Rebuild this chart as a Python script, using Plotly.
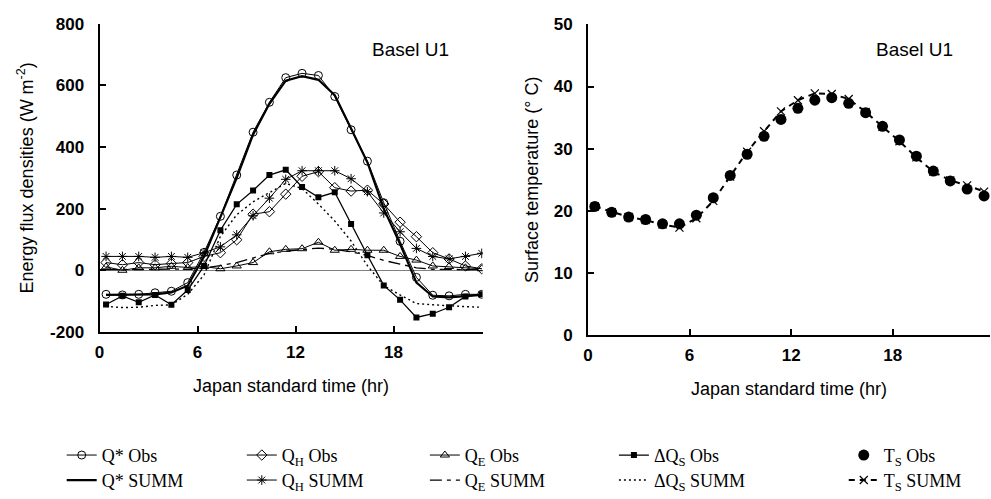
import plotly.graph_objects as go

# ---------------- data ----------------
hours = [0.4, 1.4, 2.4, 3.4, 4.4, 5.4, 6.4, 7.4, 8.4, 9.4, 10.4, 11.4,
         12.4, 13.4, 14.4, 15.4, 16.4, 17.4, 18.4, 19.4, 20.4, 21.4, 22.4, 23.4]

qstar_obs = [-78, -80, -78, -73, -68, -40, 58, 175, 309, 448, 545, 625,
             639, 632, 564, 456, 354, 219, 94, -23, -81, -83, -78, -78]
qstar_summ = [-80, -80, -80, -78, -72, -50, 45, 170, 300, 440, 540, 615,
              630, 618, 568, 460, 350, 200, 85, -40, -85, -88, -83, -80]
qh_obs = [25, 18, 25, 18, 22, 25, 45, 57, 99, 182, 190, 247,
          305, 320, 268, 257, 260, 215, 156, 109, 57, 37, 14, 5]
qh_summ = [45, 45, 45, 42, 45, 42, 57, 76, 115, 177, 234, 295,
           323, 323, 323, 297, 255, 186, 125, 71, 45, 37, 45, 55]
qe_obs = [11, 0, 8, 8, 13, 9, 12, 5, 14, 25, 60, 68,
          70, 91, 65, 68, 65, 65, 45, 33, 14, 12, 8, 5]
qe_summ = [2, 2, 2, 2, 3, 4, 8, 15, 25, 40, 55, 62,
           68, 72, 68, 60, 48, 32, 20, 8, 3, 2, 2, 2]
dqs_obs = [-111, -83, -104, -80, -112, -64, 14, 130, 214, 259, 309, 326,
           270, 237, 253, 150, 49, -49, -96, -153, -141, -120, -85, -78]
dqs_summ = [-117, -121, -120, -114, -112, -78, -15, 110, 180, 222, 252, 282,
            265, 215, 160, 95, 15, -50, -80, -108, -112, -116, -118, -120]

ts_obs = [20.7, 19.75, 19.0, 18.6, 17.9, 17.9, 19.3, 22.1, 25.7, 29.1, 32.0, 34.7,
          36.5, 37.8, 38.2, 37.3, 35.8, 33.6, 31.4, 28.8, 26.4, 24.8, 23.5, 22.4]
ts_summ = [20.7, 19.8, 19.0, 18.5, 17.8, 17.3, 18.8, 21.6, 25.5, 29.5, 32.8, 36.0,
           37.8, 38.9, 38.8, 38.0, 35.9, 33.5, 31.2, 28.6, 26.3, 24.9, 24.1, 23.1]

x_ticks = [0, 6, 12, 18]
flux_ticks = [-200, 0, 200, 400, 600, 800]
temp_ticks = [0, 10, 20, 30, 40, 50]

W, H = 991, 499
SANS = "Liberation Sans"
SERIF = "Liberation Serif"

fig = go.Figure()

def add(x, y, name, legend, xa="x", ya="y", mode="lines+markers", line=None, marker=None):
    fig.add_trace(go.Scatter(x=x, y=y, name=name, mode=mode, xaxis=xa, yaxis=ya,
                             legend=legend, line=line or {}, marker=marker or {},
                             showlegend=True, hoverinfo="skip"))

# left panel
add(hours, qstar_summ, "Q* SUMM", "legend2", mode="lines",
    line=dict(color="black", width=2.2))
add(hours, qe_summ, "Q<sub>E</sub> SUMM", "legend6", mode="lines",
    line=dict(color="black", width=1.3, dash="12px,5px,4px,5px"))
add(hours, dqs_summ, "ΔQ<sub>S</sub> SUMM", "legend8", mode="lines",
    line=dict(color="black", width=1.4, dash="2px,3px"))
add(hours, qh_summ, "Q<sub>H</sub> SUMM", "legend4",
    line=dict(color="black", width=1),
    marker=dict(symbol="asterisk-open", size=8, color="black", line=dict(width=1, color="black")))
add(hours, qe_obs, "Q<sub>E</sub> Obs", "legend5",
    line=dict(color="black", width=1),
    marker=dict(symbol="triangle-up-open", size=8, color="black", line=dict(width=1, color="black")))
add(hours, qh_obs, "Q<sub>H</sub> Obs", "legend3",
    line=dict(color="black", width=1),
    marker=dict(symbol="diamond-open", size=8, color="black", line=dict(width=1, color="black")))
add(hours, dqs_obs, "ΔQ<sub>S</sub> Obs", "legend7",
    line=dict(color="black", width=1.3),
    marker=dict(symbol="square", size=6, color="black"))
add(hours, qstar_obs, "Q* Obs", "legend",
    line=dict(color="black", width=1),
    marker=dict(symbol="circle-open", size=8, color="black", line=dict(width=1, color="black")))

# right panel
add(hours, ts_summ, "T<sub>S</sub> SUMM", "legend10", xa="x2", ya="y2",
    line=dict(color="black", width=2, dash="6px,5px"),
    marker=dict(symbol="x-thin-open", size=8, color="black", line=dict(width=1.2, color="black")))
add(hours, ts_obs, "T<sub>S</sub> Obs", "legend9", xa="x2", ya="y2", mode="markers",
    marker=dict(symbol="circle", size=11, color="black"))

axis_common = dict(showline=True, linecolor="black", linewidth=2, ticks="inside",
                   ticklen=6, tickwidth=1.5, tickcolor="black", showgrid=False,
                   tickfont=dict(family=SANS, size=17, color="black", weight="bold"),
                   mirror=False)

TITLE_FONT = dict(family=SANS, size=18, color="black")

legend_rows = {1: 464, 2: 490}
legend_cols = {1: 57, 2: 238, 3: 422, 4: 612, 5: 843}
legends = {}
order = [(1, 1), (1, 2), (2, 1), (2, 2), (3, 1), (3, 2), (4, 1), (4, 2), (5, 1), (5, 2)]
for i, (c, r) in enumerate(order, start=1):
    key = "legend" if i == 1 else f"legend{i}"
    legends[key] = dict(x=legend_cols[c] / W, y=1 - legend_rows[r] / H,
                        xanchor="left", yanchor="middle", bgcolor="rgba(0,0,0,0)",
                        font=dict(family=SERIF, size=18, color="black"),
                        borderwidth=0)

fig.update_layout(
    width=W, height=H, margin=dict(l=0, r=0, t=0, b=0),
    paper_bgcolor="white", plot_bgcolor="white",
    xaxis=dict(domain=[95 / W, 480 / W], range=[0, 23.45], tickvals=x_ticks,
               title=dict(text="Japan standard time (hr)", font=TITLE_FONT, standoff=18),
               ticklabelstandoff=4,
               zeroline=False, anchor="y", **axis_common),
    yaxis=dict(domain=[1 - 335.7 / H, 1 - 15.3 / H], range=[-200, 800], tickvals=flux_ticks,
               ticktext=[str(v) for v in flux_ticks],
               title=dict(text="Energy flux densities (W m<sup>-2</sup>)", font=TITLE_FONT, standoff=12),
               ticklabelstandoff=10,
               zeroline=True, zerolinecolor="#808080", zerolinewidth=1.2, anchor="x", **axis_common),
    xaxis2=dict(domain=[586 / W, 990 / W], range=[0, 23.75], tickvals=x_ticks,
                title=dict(text="Japan standard time (hr)", font=TITLE_FONT, standoff=18),
                ticklabelstandoff=4,
                zeroline=False, anchor="y2", **axis_common),
    yaxis2=dict(domain=[1 - 339 / H, 1 - 16 / H], range=[0, 50], tickvals=temp_ticks,
                title=dict(text="Surface temperature (° C)", font=TITLE_FONT, standoff=10),
                ticklabelstandoff=10,
                zeroline=False, anchor="x2", **axis_common),
    annotations=[
        dict(text="Basel U1", x=367 / W, y=1 - 42 / H, xref="paper", yref="paper",
             xanchor="left", yanchor="middle", showarrow=False,
             font=dict(family=SANS, size=19, color="black")),
        dict(text="Basel U1", x=873 / W, y=1 - 42 / H, xref="paper", yref="paper",
             xanchor="left", yanchor="middle", showarrow=False,
             font=dict(family=SANS, size=19, color="black")),
    ],
    **legends,
)

fig.write_html("out.html")
